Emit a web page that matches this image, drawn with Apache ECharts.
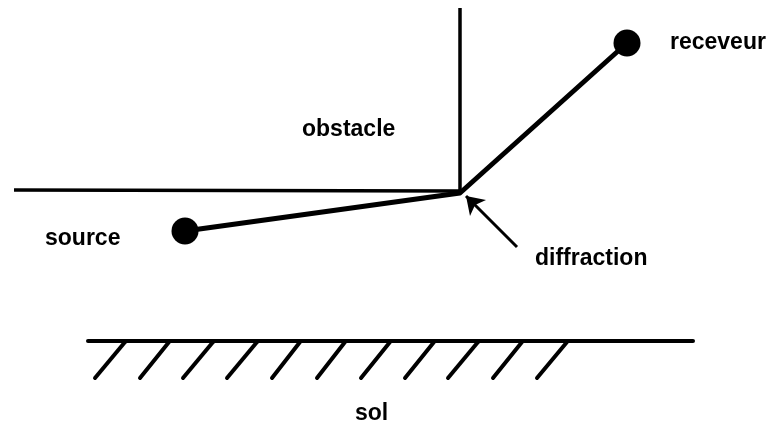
<!DOCTYPE html>
<html>
<head>
<meta charset="utf-8">
<script src="https://cdn.jsdelivr.net/npm/echarts@6/dist/echarts.min.js"></script>
<style>
html,body{margin:0;padding:0;background:#fff;}
#chart{width:784px;height:431px;}
</style>
</head>
<body>
<div id="chart"></div>
<script>
// Diagram coordinates (x to the right, y downward)
var obstaclePoints = [[460, 8], [460, 191], [14, 190]];
var sourcePoint = [185, 231];
var diffractionPoint = [460, 193];
var receiverPoint = [627, 43];
var rayPoints = [sourcePoint, diffractionPoint, receiverPoint];
var groundLine = [[88, 341], [693, 341]];
var hatchBottomX = [95, 140, 183, 227, 272, 317, 361, 405, 448, 493, 537];
var hatchTopX = [125, 169, 213, 257, 300, 345, 390, 434, 478, 522, 567];
var hatchBottomY = 378;
var hatchTopY = 342;
var arrowTail = [517, 247];
var arrowTip = [466, 196];
var labelTexts = ['obstacle', 'source', 'diffraction', 'receveur', 'sol'];
var labelX = [302, 45, 535, 670, 355];
var labelMiddleY = [130, 239, 259, 43, 414];

var FONT = 23;
var hatchData = hatchBottomX.map(function (bx, i) {
  return { coords: [[bx, hatchBottomY], [hatchTopX[i], hatchTopY]] };
});
var labelData = labelTexts.map(function (t, i) {
  return { value: [labelX[i], labelMiddleY[i]], name: t };
});

var chart = echarts.init(document.getElementById('chart'));
chart.setOption({
  backgroundColor: '#ffffff',
  animation: false,
  grid: { left: 0, right: 0, top: 0, bottom: 0 },
  xAxis: { type: 'value', min: 0, max: 784, show: false },
  yAxis: { type: 'value', min: 0, max: 431, inverse: true, show: false },
  series: [
    {
      name: 'obstacle', type: 'line', data: obstaclePoints, symbol: 'none',
      lineStyle: { color: '#000', width: 3.5, join: 'miter' }
    },
    {
      name: 'rayon', type: 'line', data: rayPoints, symbol: 'none',
      lineStyle: { color: '#000', width: 5, join: 'round' }
    },
    {
      name: 'points', type: 'scatter', data: [sourcePoint, receiverPoint],
      symbol: 'circle', symbolSize: 27, itemStyle: { color: '#000', opacity: 1 }
    },
    {
      name: 'sol', type: 'line', data: groundLine, symbol: 'none',
      lineStyle: { color: '#000', width: 4, cap: 'round' }
    },
    {
      name: 'hachures', type: 'lines', coordinateSystem: 'cartesian2d',
      data: hatchData, symbol: 'none',
      lineStyle: { color: '#000', width: 4, cap: 'round', opacity: 1 }
    },
    {
      name: 'fleche', type: 'lines', coordinateSystem: 'cartesian2d',
      data: [{ coords: [arrowTail, arrowTip] }],
      symbol: ['none', 'arrow'], symbolSize: [13, 17],
      lineStyle: { color: '#000', width: 3, opacity: 1 }
    },
    {
      name: 'labels', type: 'scatter', data: labelData, symbolSize: 0,
      itemStyle: { opacity: 1 },
      label: {
        show: true, position: [0, 0], align: 'left', verticalAlign: 'middle',
        formatter: function (p) { return p.name; },
        color: '#000', opacity: 1, fontFamily: 'Liberation Sans, Arial, sans-serif',
        fontWeight: 'bold', fontSize: FONT
      }
    }
  ]
});
</script>
</body>
</html>
